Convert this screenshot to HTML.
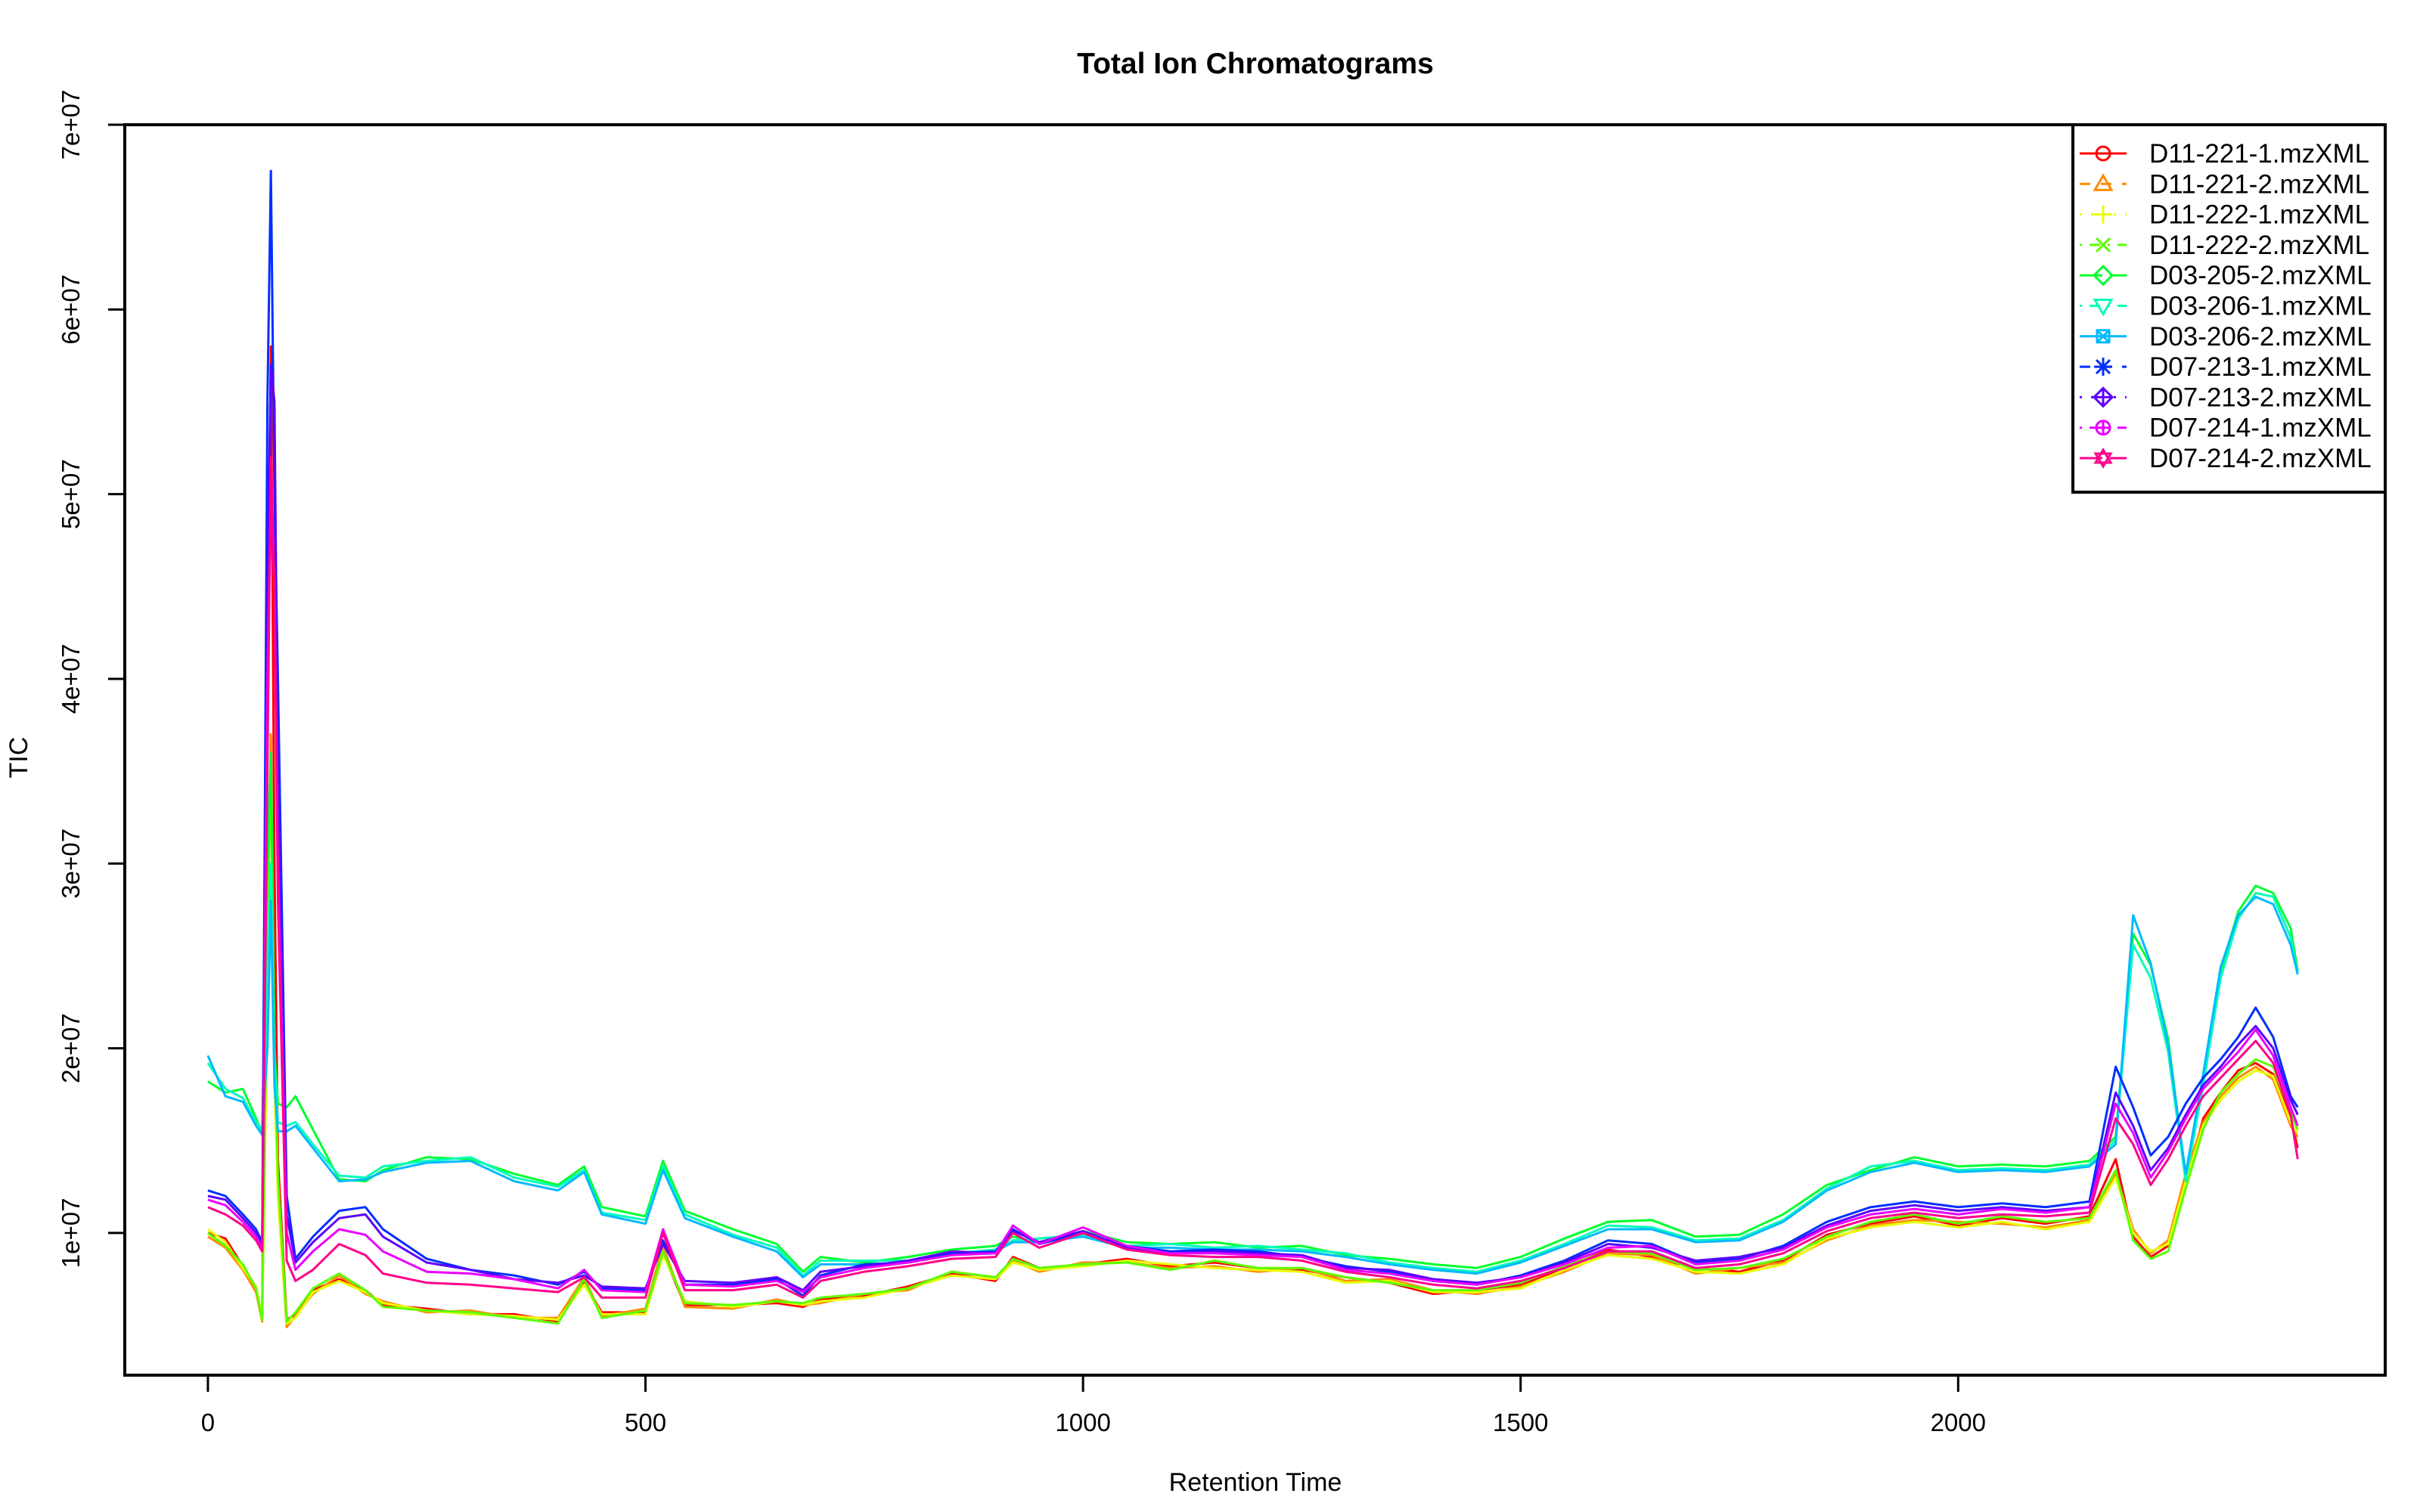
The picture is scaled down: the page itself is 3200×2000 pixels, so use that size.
<!DOCTYPE html>
<html><head><meta charset="utf-8"><title>Total Ion Chromatograms</title>
<style>
html,body{margin:0;padding:0;background:#fff;}
svg{display:block;font-family:"Liberation Sans",Arial,sans-serif;}
</style></head>
<body>
<svg id="chart" width="3200" height="2000" viewBox="0 0 3200 2000" xmlns="http://www.w3.org/2000/svg">
<rect x="0" y="0" width="3200" height="2000" fill="#fff"/>
<text x="1660" y="97" text-anchor="middle" font-size="39" font-weight="bold">Total Ion Chromatograms</text>
<text x="1660" y="1972" text-anchor="middle" font-size="34">Retention Time</text>
<text transform="translate(36,1002) rotate(-90)" text-anchor="middle" font-size="34">TIC</text>
<g id="series"></g>
<g id="axes"></g>
<g id="legend"></g>
</svg>
<script>
const names = ["D11-221-1.mzXML","D11-221-2.mzXML","D11-222-1.mzXML","D11-222-2.mzXML","D03-205-2.mzXML","D03-206-1.mzXML","D03-206-2.mzXML","D07-213-1.mzXML","D07-213-2.mzXML","D07-214-1.mzXML","D07-214-2.mzXML"];
const colors = ["#FF0000","#FF8B00","#E8FF00","#5DFF00","#00FF2E","#00FFB9","#00B9FF","#002EFF","#5D00FF","#E800FF","#FF008B"];
const xTicks = [0,500,1000,1500,2000];
const yTicks = [1e7,2e7,3e7,4e7,5e7,6e7,7e7];
const yTickLabels = ["1e+07","2e+07","3e+07","4e+07","5e+07","6e+07","7e+07"];
const rt = [0,20,40,55,62,68,72,76,80,90,100,120,150,180,200,250,300,350,400,430,450,500,520,545,600,650,680,700,750,800,850,900,920,950,1000,1050,1100,1150,1200,1250,1300,1350,1400,1450,1500,1550,1600,1650,1700,1750,1800,1850,1900,1950,2000,2050,2100,2150,2180,2200,2220,2240,2260,2280,2300,2320,2340,2360,2380,2388];
// values in millions
const s0 = [10,9.7,8.2,7,5.4,40,58,30,14,5.3,5.6,6.9,7.5,6.9,6.1,5.9,5.6,5.6,5.2,7.3,5.7,5.7,8.9,6.1,6.1,6.2,6.0,6.4,6.6,7.1,7.8,7.4,8.7,8.1,8.3,8.6,8.2,8.4,8.1,8.0,7.6,7.3,6.7,6.9,7.2,8.1,9.1,8.7,8.1,7.9,8.5,9.9,10.5,10.9,10.4,10.8,10.5,10.9,14.0,9.8,8.7,9.3,12.6,16.2,17.6,18.8,19.2,18.6,16.2,14.6];
const s1 = [9.8,9.2,8.0,6.8,5.2,25,37,20,12,4.9,5.5,6.7,7.7,6.7,6.3,5.7,5.8,5.4,5.4,7.6,5.5,5.9,9.3,6.0,5.9,6.4,6.1,6.2,6.7,6.9,7.9,7.6,8.5,7.9,8.4,8.4,8.1,8.2,7.9,8.1,7.4,7.5,6.9,6.7,7.1,7.9,8.9,8.8,7.8,8.1,8.4,9.6,10.4,10.7,10.6,10.5,10.3,10.7,13.2,10.2,8.9,9.6,13.2,16.0,17.4,18.4,19.0,18.3,15.8,15.2];
const s2 = [10.2,9.5,8.1,7.1,5.4,22,30,18,12,5.1,5.4,6.8,7.4,6.8,6.2,5.8,5.6,5.5,5.3,7.2,5.6,5.6,8.8,6.3,6.0,6.3,6.1,6.3,6.5,7.0,7.7,7.5,8.4,8.0,8.2,8.5,8.3,8.1,8.0,7.9,7.3,7.4,6.8,6.8,7.0,8.0,8.8,8.6,7.9,7.8,8.3,9.7,10.3,10.6,10.3,10.6,10.2,10.6,13.0,10.0,9.0,9.4,12.8,15.8,17.2,18.2,18.8,18.5,16.0,15.4];
const s3 = [10,9.3,8.3,7.0,5.3,26,35,20,13,5.2,5.7,7.0,7.8,6.9,6.0,5.8,5.7,5.4,5.1,7.5,5.4,5.8,9.0,6.2,6.1,6.3,6.2,6.5,6.7,7.0,7.9,7.6,8.6,8.1,8.3,8.4,8.0,8.5,8.1,8.1,7.6,7.3,6.9,6.9,7.3,8.2,9.0,8.9,8.0,8.1,8.6,9.8,10.6,11.0,10.5,10.9,10.6,10.8,13.4,9.6,8.6,9.0,12.4,15.6,17.6,18.6,19.4,19.0,16.5,15.6];
const s4 = [18.2,17.6,17.8,16.2,15.4,30,36,20,17,16.8,17.4,15.6,12.9,12.8,13.4,14.1,14.0,13.2,12.6,13.6,11.4,10.9,13.9,11.2,10.2,9.4,7.9,8.7,8.4,8.7,9.1,9.3,9.8,9.5,10.1,9.5,9.4,9.5,9.2,9.3,8.8,8.6,8.3,8.1,8.7,9.7,10.6,10.7,9.8,9.9,11.0,12.6,13.4,14.1,13.6,13.7,13.6,13.9,15.2,26.2,24.5,20.5,13.0,18.4,24.2,27.4,28.8,28.4,26.5,24.2];
const s5 = [19.2,17.8,17.3,16.0,15.6,24,30,19,16,15.8,16.0,14.8,13.1,13.0,13.6,13.9,14.1,13.0,12.5,13.4,11.1,10.7,13.6,11.0,9.9,9.2,7.7,8.5,8.5,8.5,8.9,9.1,9.6,9.7,9.9,9.3,9.4,9.2,9.3,9.1,8.9,8.4,8.1,7.9,8.5,9.4,10.4,10.3,9.6,9.7,10.7,12.4,13.6,13.9,13.4,13.5,13.4,13.7,15.0,25.6,23.8,19.8,12.8,18.0,23.8,27.0,28.4,28.2,26.0,24.0];
const s6 = [19.6,17.4,17.1,15.8,15.3,20,28,18,15.5,15.5,15.8,14.6,12.8,12.9,13.3,13.8,13.9,12.8,12.3,13.3,11.0,10.5,13.4,10.8,9.8,9.0,7.6,8.3,8.3,8.4,8.8,9.0,9.5,9.5,9.8,9.2,9.2,9.1,9.1,9.0,8.7,8.3,8.0,7.8,8.4,9.3,10.2,10.2,9.5,9.6,10.6,12.3,13.3,13.8,13.3,13.4,13.3,13.6,14.8,27.2,24.6,20.2,13.2,18.6,24.4,27.2,28.2,27.8,25.6,24.0];
const s7 = [12.3,12.0,11.0,10.2,9.5,55,67.5,50,40,12,8.6,9.8,11.2,11.4,10.2,8.6,8.0,7.7,7.2,7.9,7.0,6.9,9.6,7.2,7.2,7.5,6.6,7.7,8.3,8.4,8.9,9.0,10.2,9.4,10.0,9.3,9.0,9.1,9.0,8.7,8.2,7.9,7.4,7.2,7.7,8.5,9.6,9.4,8.4,8.6,9.3,10.6,11.4,11.7,11.4,11.6,11.4,11.7,19.0,16.8,14.2,15.2,17.0,18.4,19.4,20.6,22.2,20.6,17.4,16.8];
const s8 = [12.0,11.8,10.8,10.0,9.3,45,57,55,35,11,8.4,9.5,10.8,11.0,9.8,8.4,8.0,7.5,7.3,7.7,7.1,7.0,9.4,7.4,7.3,7.6,6.9,7.9,8.2,8.5,9.0,8.9,10.1,9.5,10.1,9.2,8.9,9.0,8.9,8.8,8.1,8.0,7.5,7.3,7.6,8.4,9.4,9.2,8.5,8.7,9.2,10.4,11.2,11.5,11.2,11.4,11.2,11.4,17.6,15.8,13.4,14.6,16.4,18.0,19.0,20.2,21.2,20.0,17.2,16.4];
const s9 = [11.8,11.5,10.6,9.8,9.2,40,50,45,30,10,8.0,9.0,10.2,9.9,9.0,7.9,7.8,7.5,7.0,8.0,6.9,6.8,10.2,7.2,7.1,7.4,6.8,7.6,8.1,8.4,8.8,8.9,10.4,9.4,10.3,9.3,8.9,8.9,8.8,8.7,8.0,7.8,7.4,7.2,7.6,8.3,9.2,9.3,8.3,8.5,9.1,10.3,11.0,11.3,11.0,11.3,11.1,11.4,17.0,15.4,13.0,14.4,16.2,17.8,18.8,19.8,21.0,19.6,16.8,15.8];
const s10 = [11.4,11.0,10.4,9.6,9.0,35,52,45,28,8.5,7.4,8.0,9.4,8.8,7.8,7.3,7.2,7.0,6.8,7.6,6.5,6.5,10.0,6.9,6.9,7.2,6.5,7.4,7.9,8.2,8.6,8.7,10.0,9.2,10.0,9.1,8.8,8.7,8.7,8.5,7.9,7.6,7.2,7.0,7.4,8.1,9.0,9.0,8.1,8.3,8.9,10.1,10.8,11.1,10.8,11.0,10.9,11.1,16.2,14.8,12.6,14.0,15.8,17.4,18.4,19.4,20.4,19.2,16.4,14.0];
const seriesVals = [s0,s1,s2,s3,s4,s5,s6,s7,s8,s9,s10];
const legendDash = ["none","14,14","3,12","3,10,14,10","30,10","3,10,14,10","none","14,14","3,12","3,10,14,10","30,10"];

const NS = "http://www.w3.org/2000/svg";
const PL=165, PR=3154, PT=165, PB=1819;
const X0=-95, X1=2488, Y0=2.3e6, Y1=7e7;
function xs(v){return PL+(v-X0)/(X1-X0)*(PR-PL);}
function ys(v){return PB-(v-Y0)/(Y1-Y0)*(PB-PT);}
function mk(tag,attrs,parent){const e=document.createElementNS(NS,tag);for(const k in attrs)e.setAttribute(k,attrs[k]);parent.appendChild(e);return e;}

const gS=document.getElementById('series');
seriesVals.forEach((vals,i)=>{
  const d=vals.map((v,j)=>(j?'L':'M')+xs(rt[j]).toFixed(1)+','+ys(v*1e6).toFixed(1)).join(' ');
  const p=mk('path',{d:d,fill:'none',stroke:colors[i],'stroke-width':3,'stroke-linejoin':'round'},gS);
  
  
});

const gA=document.getElementById('axes');
const box=mk('rect',{x:PL,y:PT,width:PR-PL,height:PB-PT,fill:'none',stroke:'#000','stroke-width':4},gA);


xTicks.forEach(t=>{
  const x=xs(t);
  const l=mk('line',{x1:x,y1:PB,x2:x,y2:PB+22,stroke:'#000','stroke-width':3},gA);
  
  
  const tx=mk('text',{x:x,y:1893,'text-anchor':'middle','font-size':33},gA);
  tx.textContent=t;
  
  
});
yTicks.forEach((t,i)=>{
  const y=ys(t);
  const l=mk('line',{x1:PL-22,y1:y,x2:PL,y2:y,stroke:'#000','stroke-width':3},gA);
  
  
  const tx=mk('text',{transform:'translate(105,'+y+') rotate(-90)','text-anchor':'middle','font-size':33},gA);
  tx.textContent=yTickLabels[i];
  
  
});

function symbol(i,cx,cy,g,c){
  const s={fill:'none',stroke:c,'stroke-width':3};
  const r=9;
  const L=(x1,y1,x2,y2)=>mk('line',Object.assign({x1:x1,y1:y1,x2:x2,y2:y2},s),g);
  switch(i){
    case 0: mk('circle',Object.assign({cx:cx,cy:cy,r:r},s),g);break;
    case 1: mk('polygon',Object.assign({points:`${cx},${cy-11} ${cx-11},${cy+8} ${cx+11},${cy+8}`},s),g);break;
    case 2: L(cx-12,cy,cx+12,cy);L(cx,cy-12,cx,cy+12);break;
    case 3: L(cx-9,cy-9,cx+9,cy+9);L(cx-9,cy+9,cx+9,cy-9);break;
    case 4: mk('polygon',Object.assign({points:`${cx},${cy-12} ${cx+12},${cy} ${cx},${cy+12} ${cx-12},${cy}`},s),g);break;
    case 5: mk('polygon',Object.assign({points:`${cx},${cy+11} ${cx-11},${cy-8} ${cx+11},${cy-8}`},s),g);break;
    case 6: mk('rect',Object.assign({x:cx-8,y:cy-8,width:16,height:16},s),g);L(cx-8,cy-8,cx+8,cy+8);L(cx-8,cy+8,cx+8,cy-8);break;
    case 7: L(cx-12,cy,cx+12,cy);L(cx,cy-12,cx,cy+12);L(cx-9,cy-9,cx+9,cy+9);L(cx-9,cy+9,cx+9,cy-9);break;
    case 8: mk('polygon',Object.assign({points:`${cx},${cy-12} ${cx+12},${cy} ${cx},${cy+12} ${cx-12},${cy}`},s),g);L(cx-12,cy,cx+12,cy);L(cx,cy-12,cx,cy+12);break;
    case 9: mk('circle',Object.assign({cx:cx,cy:cy,r:r},s),g);L(cx-9,cy,cx+9,cy);L(cx,cy-9,cx,cy+9);break;
    default: mk('polygon',Object.assign({points:`${cx},${cy-11} ${cx-10},${cy+6} ${cx+10},${cy+6}`},s),g);mk('polygon',Object.assign({points:`${cx},${cy+11} ${cx-10},${cy-6} ${cx+10},${cy-6}`},s),g);
  }
}

const gL=document.getElementById('legend');
const lb=mk('rect',{x:2741,y:165,width:413,height:486,fill:'#fff',stroke:'#000','stroke-width':4},gL);


names.forEach((n,i)=>{
  const y=203+i*40.3;
  const g=mk('g',{},gL);
  
  
  const la={x1:2750,y1:y,x2:2812,y2:y,stroke:colors[i],'stroke-width':3};
  if(legendDash[i]!=='none') la['stroke-dasharray']=legendDash[i];
  mk('line',la,g);
  symbol(i,2781,y,g,colors[i]);
  const t=mk('text',{x:2842,y:y+12,'font-size':35},g);
  t.textContent=n;
});
</script>
</body></html>
